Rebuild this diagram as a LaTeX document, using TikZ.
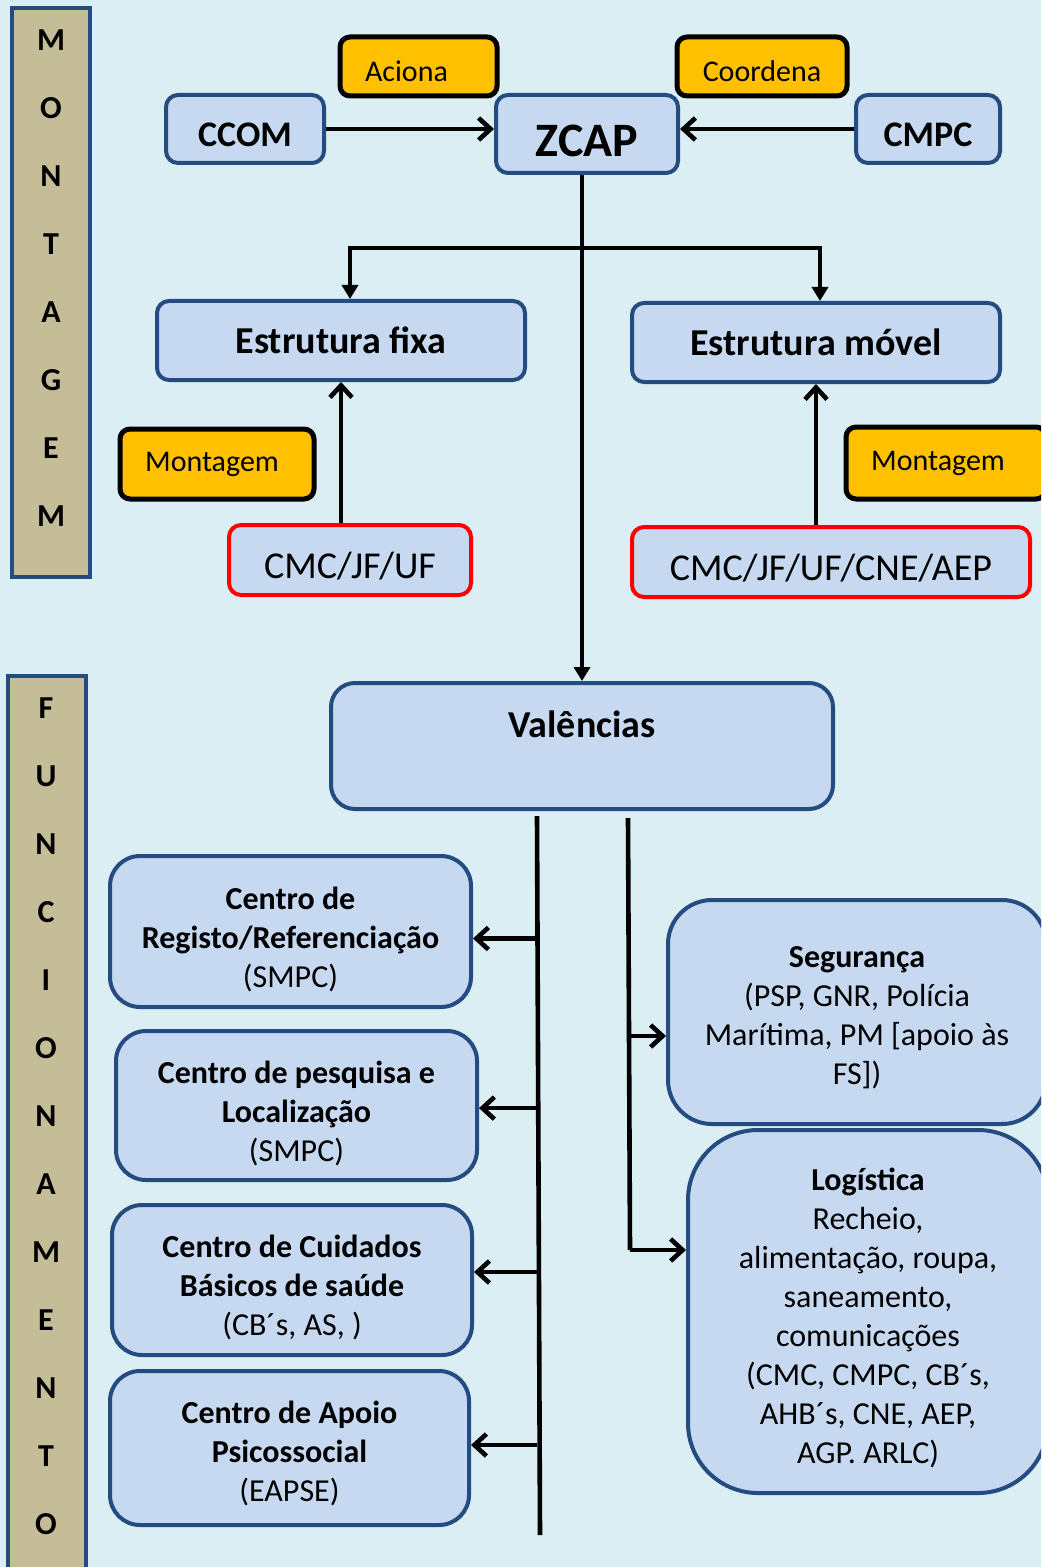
\documentclass[tikz,border=0pt]{standalone}
\usepackage{fontspec}
\setmainfont{Carlito}
\usetikzlibrary{arrows.meta, positioning}
\definecolor{bgblue}{RGB}{219,238,244}
\definecolor{boxfill}{RGB}{198,217,241}
\definecolor{boxline}{RGB}{36,76,128}
\definecolor{sidetan}{RGB}{196,189,151}
\definecolor{tagorange}{RGB}{255,192,0}
\definecolor{tagred}{RGB}{255,0,0}
\newcommand{\lift}[1]{\rule{0pt}{#1}}

\begin{document}
\begin{tikzpicture}[x=0.5pt, y=-0.5pt,
  box/.style={draw=boxline, line width=2pt, fill=boxfill, rounded corners=6pt, align=center, inner sep=0pt},
  redbox/.style={box, draw=tagred, font=\fontsize{19}{23}\selectfont, text height=18.3pt, text depth=0pt},
  tag/.style={draw=black, line width=2.5pt, fill=tagorange, rounded corners=5pt, inner sep=0pt, font=\fontsize{15}{18}\selectfont},
  centre/.style={box, rounded corners=15pt, font=\fontsize{16}{19.5}\selectfont},
  side/.style={draw=boxline, line width=2pt, fill=sidetan},
  letter/.style={font=\bfseries\fontsize{16}{19}\selectfont},
  link/.style={line width=2.3pt, -{Straight Barb[length=6pt,width=11pt]}},
  drop/.style={line width=2.3pt, -{Triangle[length=7pt,width=8pt]}}]
  \useasboundingbox (0,0) rectangle (1041,1567);
  \clip (0,0) rectangle (1041,1567);
  \fill[bgblue] (0,0) rectangle (1041,1567);

  \draw[side] (12,8) rectangle (90,577);
  \foreach \l [count=\i from 0] in {M,O,N,T,A,G,E,M}
    \node[letter] (mt\i) at (51,40+68*\i) {\l};
  \draw[side] (8,676) rectangle (86,1580);
  \foreach \l [count=\i from 0] in {F,U,N,C,I,O,N,A,M,E,N,T,O}
    \node[letter] (fn\i) at (46,708+68*\i) {\l};

  \node[box, minimum width=79pt, minimum height=34pt, text height=17.6pt, text depth=0pt, font=\fontsize{18}{22}\selectfont\bfseries] (ccom) at (245,129) {CCOM};
  \node[box, minimum width=91pt, minimum height=39pt, text height=22.5pt, text depth=0pt, font=\fontsize{24}{28}\selectfont\bfseries] (zcap) at (587,134) {ZCAP};
  \node[box, minimum width=72pt, minimum height=34pt, text height=17.6pt, text depth=0pt, font=\fontsize{18}{22}\selectfont\bfseries] (cmpc) at (928,129) {CMPC};
  \node[tag, minimum width=78.5pt, minimum height=29.5pt, text height=15pt, text depth=0pt] (aciona) at (418.5,66.5) {\hspace*{-12pt}Aciona};
  \node[tag, minimum width=85pt, minimum height=29.5pt, text height=15.5pt, text depth=0pt] (coordena) at (762,66.5) {Coordena};

  \node[box, minimum width=184pt, minimum height=39.5pt, font=\fontsize{19}{22}\selectfont\bfseries] (fixa) at (341,340.5) {Estrutura fixa};
  \node[box, minimum width=184pt, minimum height=39.5pt, font=\fontsize{19}{22}\selectfont\bfseries] (movel) at (816,342.5) {Estrutura móvel};
  \node[tag, minimum width=97pt, minimum height=35pt] (mont1) at (217,464) {\hspace*{-5pt}Montagem};
  \node[tag, minimum width=100pt, minimum height=36pt] (mont2) at (946,463) {\hspace*{-8pt}Montagem};
  \node[redbox, minimum width=121pt, minimum height=35pt] (cmc1) at (350,560) {CMC/JF/UF};
  \node[redbox, minimum width=199pt, minimum height=35pt] (cmc2) at (831,562) {CMC/JF/UF/CNE/AEP};

  \node[box, rounded corners=12pt, minimum width=251pt, minimum height=63pt, font=\fontsize{19}{22}\selectfont\bfseries] (val) at (582,746) {Valências\\\mbox{}};

  \node[centre, minimum width=180.5pt, minimum height=75.5pt] (c1) at (290.5,931.5) {\lift{19pt}\textbf{Centro de}\\\textbf{Registo/Referenciação}\\(SMPC)};
  \node[centre, minimum width=180.5pt, minimum height=74.5pt] (c2) at (296.5,1105.5) {\lift{19pt}\textbf{Centro de pesquisa e}\\\textbf{Localização}\\(SMPC)};
  \node[centre, minimum width=180pt, minimum height=75pt] (c3) at (292,1280) {\lift{19pt}\textbf{Centro de Cuidados}\\\textbf{Básicos de saúde}\\(CB´s, AS, )};
  \node[centre, minimum width=179.5pt, minimum height=77pt] (c4) at (289.5,1448) {\lift{17pt}\textbf{Centro de Apoio}\\\textbf{Psicossocial}\\(EAPSE)};
  \node[centre, rounded corners=22pt, minimum width=189pt, minimum height=112pt] (seg) at (857,1012) {\lift{16pt}\textbf{Segurança}\\(PSP, GNR, Polícia\\Marítima, PM [apoio às\\FS])};
  \node[centre, rounded corners=35pt, minimum width=180pt, minimum height=181.5pt] (log) at (868,1311.5) {\lift{18pt}\textbf{Logística}\\Recheio,\\alimentação, roupa,\\saneamento,\\comunicações\\(CMC, CMPC, CB´s,\\AHB´s, CNE, AEP,\\AGP. ARLC)};

  \draw[link] (ccom.east) -- (ccom.east -| zcap.west);
  \draw[link] (cmpc.west) -- (cmpc.west -| zcap.east);
  \draw[drop] (zcap.south -| val.north) -- (val.north);
  \coordinate (split) at (582,248);
  \draw[drop] (split) -| ([xshift=4.5pt]fixa.north);
  \draw[drop] (split) -| ([xshift=2pt]movel.north);
  \draw[link] (cmc1.north -| fixa.south) -- (fixa.south);
  \draw[link] (cmc2.north -| movel.south) -- (movel.south);

  \coordinate (ltop) at (537,816);
  \coordinate (lbot) at (540,1535);
  \draw[line width=2.3pt] (ltop) -- (lbot);
  \foreach \c/\dy in {c1/-3.5pt, c2/-1.3pt, c3/4pt, c4/1.5pt}
    \draw[link] ([yshift=\dy]ltop |- \c.east) -- ([yshift=\dy]\c.east);
  \coordinate (rtop) at (628,818);
  \coordinate (rbot) at (630,1250);
  \coordinate (segin) at (668,1036);
  \draw[line width=2.3pt] (rtop) -- (rbot);
  \draw[link] (rtop |- segin) -- (segin -| seg.west);
  \draw[link] (rbot) -- (rbot -| log.west);
\end{tikzpicture}
\end{document}
